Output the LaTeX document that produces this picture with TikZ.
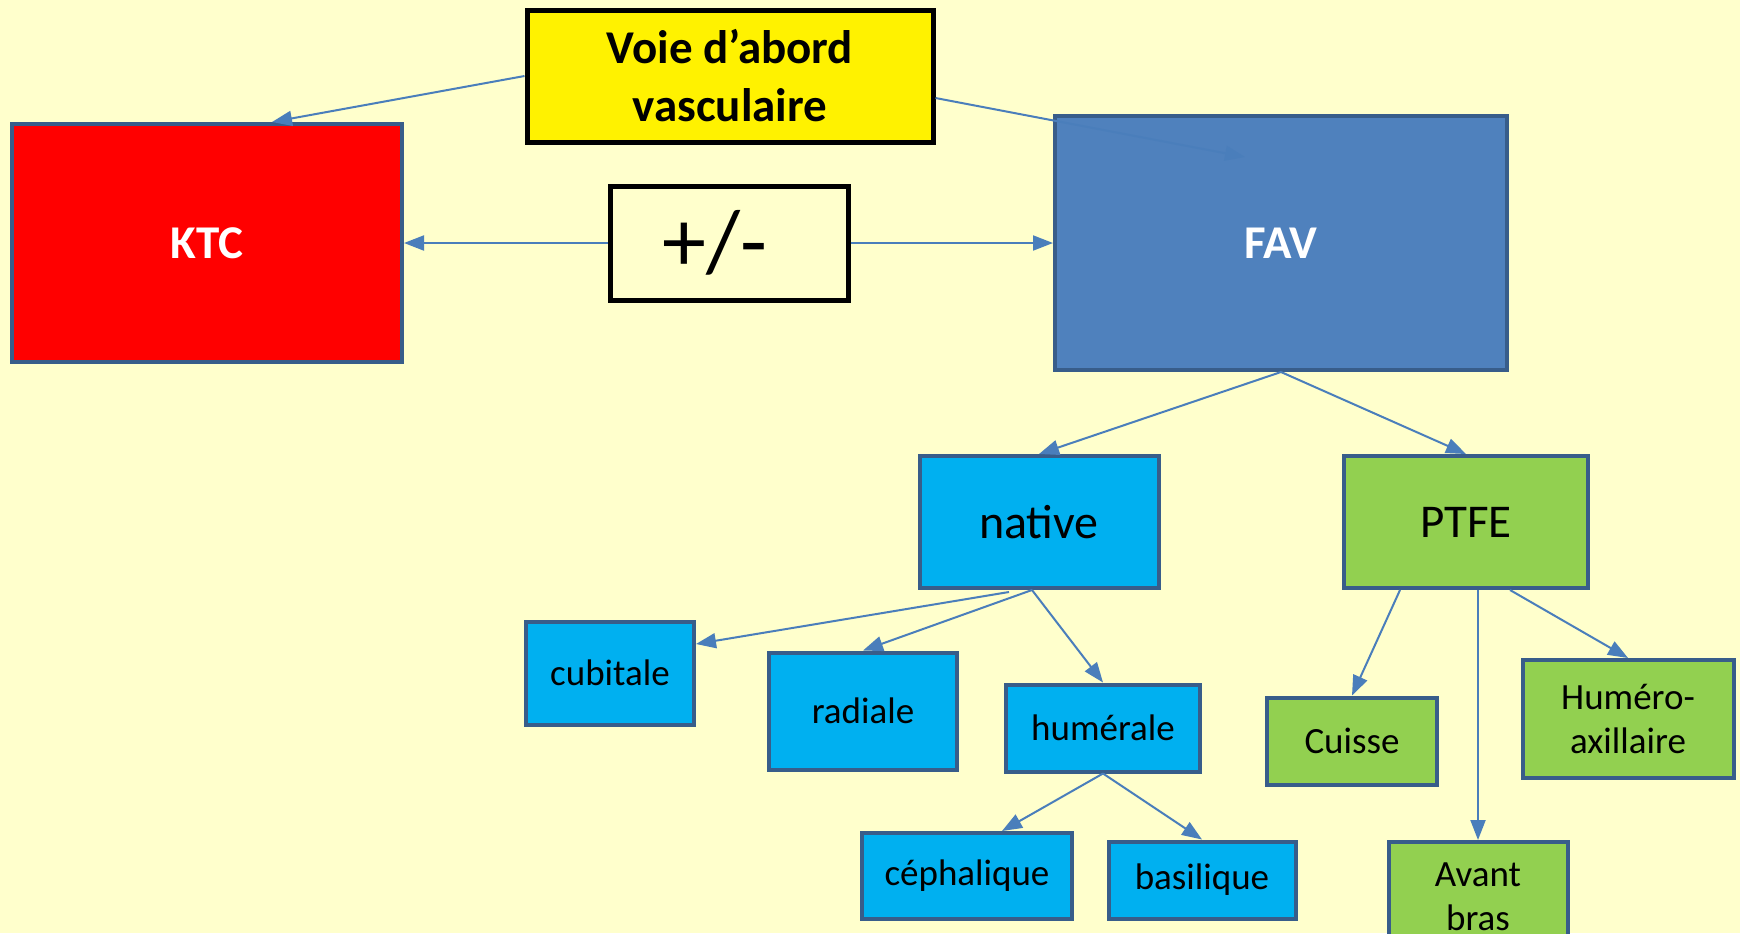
\documentclass[tikz,border=0pt]{standalone}
\usepackage{fontspec}
\setmainfont{Carlito}
\usetikzlibrary{arrows.meta,calc}
\definecolor{bgyellow}{HTML}{FFFFCC}
\definecolor{boxedge}{HTML}{385D8A}
\definecolor{arrowblue}{HTML}{4A7EBB}
\definecolor{favblue}{HTML}{4F81BD}
\definecolor{skyblue}{HTML}{00B0F0}
\definecolor{leafgreen}{HTML}{92D050}

\begin{document}
\begin{tikzpicture}[
    x=0.5pt, y=-0.5pt,
    box/.style={draw=boxedge, line width=2pt, inner sep=0pt, align=center},
    blackbox/.style={draw=black, line width=2.5pt, inner sep=0pt, align=center},
    small/.style={font=\fontsize{18.5}{22}\selectfont},
    every edge/.style={draw=arrowblue, line width=1pt, -{Triangle[length=10pt,width=7.5pt]}}
]

\path[fill=bgyellow, use as bounding box] (0,0) rectangle (1740,933);

% Nodes
\node (voie) [blackbox, fill=yellow, font=\bfseries\fontsize{23.5}{29}\selectfont,
    minimum width=203pt, minimum height=66pt] at (730,76) {\raisebox{-2pt}{Voie d’abord}\\\raisebox{-2pt}{vasculaire}};
\node (ktc) [box, fill=red, text=white, font=\bfseries\fontsize{23.5}{28}\selectfont,
    minimum width=195pt, minimum height=119pt] at (207,243) {\raisebox{-3pt}{KTC}};
\node (pm) [blackbox, minimum width=119pt, minimum height=57pt,
    font=\fontsize{44}{48}\selectfont] at (729,243) {\hspace*{-14pt}\raisebox{-3pt}{+/-}};
\node (fav) [box, fill=favblue, text=white, font=\bfseries\fontsize{23.5}{28}\selectfont,
    minimum width=226pt, minimum height=127pt] at (1281,243) {\raisebox{-3pt}{FAV}};

\node (native) [box, fill=skyblue, minimum width=119.5pt, minimum height=66pt,
    font=\fontsize{24}{28}\selectfont] at (1039,522) {\raisebox{-2pt}{native}};
\node (ptfe) [box, fill=leafgreen, minimum width=122pt, minimum height=66pt,
    font=\fontsize{23.5}{28}\selectfont] at (1466,522) {\raisebox{-2pt}{PTFE}};

\node (cubitale) [box, fill=skyblue, small, minimum width=84pt, minimum height=51.5pt] at (610,673) {cubitale};
\node (radiale) [box, fill=skyblue, small, minimum width=94pt, minimum height=58.5pt] at (863,711) {radiale};
\node (humerale) [box, fill=skyblue, small, minimum width=97pt, minimum height=43.5pt] at (1103,728) {humérale};
\node (cephalique) [box, fill=skyblue, small, minimum width=105pt, minimum height=43pt] at (967,876) {\raisebox{-1.5pt}{céphalique}};
\node (basilique) [box, fill=skyblue, small, minimum width=93.5pt, minimum height=38.5pt] at (1202,880) {\raisebox{-1.5pt}{basilique}};

\node (cuisse) [box, fill=leafgreen, small, minimum width=85pt, minimum height=43.5pt] at (1352,741) {\raisebox{-1.5pt}{Cuisse}};
\node (humax) [box, fill=leafgreen, small, minimum width=105.5pt, minimum height=59pt] at (1628,719) {Huméro-\\axillaire};
\node (avant) [box, fill=leafgreen, small, minimum width=89.5pt, minimum height=55pt] at (1478,897) {Avant\\bras};

% Edges
\path (voie.west) edge ($(ktc.north)+(65,0)$);
\path ($(voie.east)+(0,22)$) edge ($(fav.center)+(-36,-86)$);
\path (pm.west) edge (ktc.east);
\path (pm.east) edge (fav.west);
\path (fav.south) edge (native.north);
\path (fav.south) edge (ptfe.north);
\path ($(native.south)+(-30,2)$) edge ($(cubitale.east)+(0,-29)$);
\path ($(native.south)+(-7,0)$) edge (radiale.north);
\path ($(native.south)+(-7,0)$) edge (humerale.north);
\path (humerale.south) edge ($(cephalique.north)+(35,0)$);
\path (humerale.south) edge (basilique.north);
\path ($(ptfe.south)+(-66,0)$) edge (cuisse.north);
\path (avant.north |- ptfe.south) edge (avant.north);
\path ($(ptfe.south)+(44,0)$) edge (humax.north);

\end{tikzpicture}
\end{document}
